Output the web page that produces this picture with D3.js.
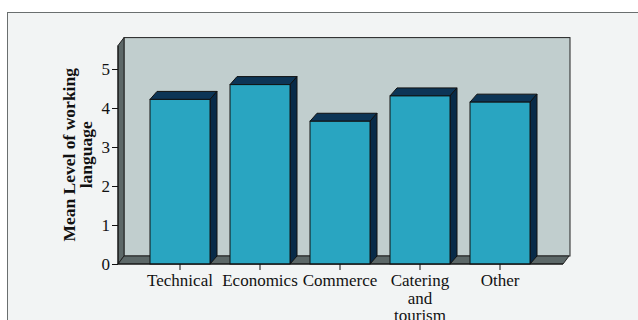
<!DOCTYPE html>
<html>
<head>
<meta charset="utf-8">
<script src="https://cdn.jsdelivr.net/npm/d3@7/dist/d3.min.js"></script>
<style>
  html, body { margin: 0; padding: 0; background: #ffffff; }
  svg { display: block; }
  text { font-family: "Liberation Serif", "Times New Roman", serif; fill: #111; }
</style>
</head>
<body>
<svg id="chart" width="638" height="320"></svg>
<script>
// Mean level of working language by field of study
const categories = ["Technical", "Economics", "Commerce", "Catering and tourism", "Other"];
const categoryLines = [["Technical"], ["Economics"], ["Commerce"], ["Catering", "and", "tourism"], ["Other"]];
const meanLevel = [4.22, 4.6, 3.66, 4.31, 4.15];
const yTicks = [0, 1, 2, 3, 4, 5];
const yTitleLines = ["Mean Level of working", "language"];

const svg = d3.select("#chart");

// panel
svg.append("rect")
  .attr("x", 7.5).attr("y", 12.5)
  .attr("width", 700).attr("height", 400)
  .attr("fill", "#f2f4f4").attr("stroke", "#6a6f6f").attr("stroke-width", 1);

const frontLeft = 118, frontRight = 563;
const wallDx = 6, wallDy = 8;
const barDx = 7, barDy = 8;

const y = d3.scaleLinear().domain([0, 5.6]).range([264, 45.6]);
const x = d3.scaleBand().domain(categories).range([140, 540])
  .paddingInner(0.25).paddingOuter(0.125);

const y0 = y(0), yTop = y(5.6);

// back wall
svg.append("rect")
  .attr("x", frontLeft + wallDx).attr("y", yTop - wallDy)
  .attr("width", frontRight - frontLeft + 1).attr("height", y0 - yTop)
  .attr("fill", "#c1cece").attr("stroke", "#222").attr("stroke-width", 1);

// left side wall
svg.append("path")
  .attr("d", `M${frontLeft},${y0} L${frontLeft + wallDx},${y0 - wallDy} L${frontLeft + wallDx},${yTop - wallDy} L${frontLeft},${yTop} Z`)
  .attr("fill", "#5d6868").attr("stroke", "#222").attr("stroke-width", 1);

// floor
svg.append("path")
  .attr("d", `M${frontLeft},${y0} L${frontLeft + wallDx},${y0 - wallDy} L${frontRight + wallDx},${y0 - wallDy} L${frontRight},${y0} Z`)
  .attr("fill", "#5d6868").attr("stroke", "#222").attr("stroke-width", 1);

// bars
const bars = svg.append("g").selectAll("g").data(categories).join("g");
bars.append("path") // top face
  .attr("d", (c, i) => {
    const bx = x(c), w = x.bandwidth(), by = y(meanLevel[i]);
    return `M${bx},${by} L${bx + barDx},${by - barDy} L${bx + w + barDx},${by - barDy} L${bx + w},${by} Z`;
  })
  .attr("fill", "#0d3556").attr("stroke", "#111").attr("stroke-width", 1);
bars.append("path") // side face
  .attr("d", (c, i) => {
    const bx = x(c) + x.bandwidth(), by = y(meanLevel[i]);
    return `M${bx},${by} L${bx + barDx},${by - barDy} L${bx + barDx},${y0 - barDy} L${bx},${y0} Z`;
  })
  .attr("fill", "#082a48").attr("stroke", "#111").attr("stroke-width", 1);
bars.append("rect") // front face
  .attr("x", c => x(c))
  .attr("y", (c, i) => y(meanLevel[i]))
  .attr("width", x.bandwidth())
  .attr("height", (c, i) => y0 - y(meanLevel[i]))
  .attr("fill", "#29a5c1").attr("stroke", "#111").attr("stroke-width", 1);

// y axis
const yAxis = svg.append("g")
  .attr("transform", `translate(${frontLeft},0)`)
  .call(d3.axisLeft(y).tickValues(yTicks).tickFormat(d3.format("d")).tickSize(6).tickPadding(2));
yAxis.select(".domain").attr("stroke", "#111").attr("d", `M0,${y0}V${yTop}`);
yAxis.selectAll(".tick line").attr("stroke", "#111");
yAxis.selectAll(".tick text")
  .style("font-family", '"Liberation Serif", serif').style("font-size", "17px").attr("fill", "#111");

// x axis baseline and ticks
svg.append("line")
  .attr("x1", frontLeft).attr("x2", frontRight).attr("y1", y0).attr("y2", y0)
  .attr("stroke", "#111");
const xAxis = svg.append("g")
  .attr("transform", `translate(0,${y0})`)
  .call(d3.axisBottom(x).tickSize(6).tickFormat(""));
xAxis.select(".domain").remove();
xAxis.selectAll(".tick line").attr("stroke", "#111");

// category labels
const labels = svg.append("g").selectAll("text").data(categories).join("text")
  .attr("x", c => x(c) + x.bandwidth() / 2)
  .attr("y", 286)
  .attr("text-anchor", "middle")
  .style("font-size", "17px");
labels.each(function (c, i) {
  d3.select(this).selectAll("tspan").data(categoryLines[i]).join("tspan")
    .attr("x", x(c) + x.bandwidth() / 2)
    .attr("dy", (d, j) => j === 0 ? 0 : 17.5)
    .text(d => d);
});

// y axis title
svg.append("text")
  .attr("transform", `translate(75,${(y0 + yTop) / 2}) rotate(-90)`)
  .attr("text-anchor", "middle")
  .style("font-size", "17.5px").style("font-weight", "bold")
  .selectAll("tspan").data(yTitleLines).join("tspan")
  .attr("x", 0)
  .attr("dy", (d, j) => j === 0 ? 0 : 17)
  .text(d => d);
</script>
</body>
</html>
